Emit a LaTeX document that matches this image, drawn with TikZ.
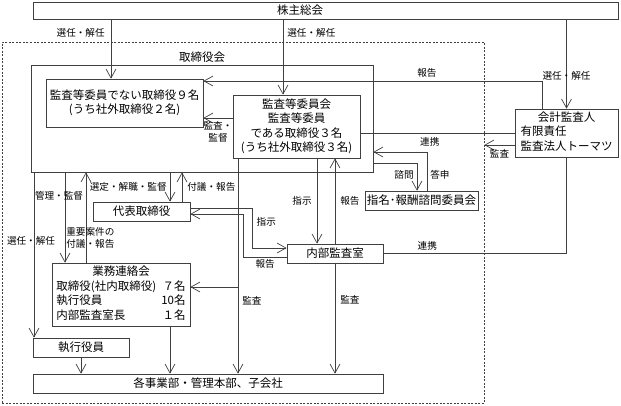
\documentclass[tikz,border=0pt]{standalone}
\usepackage{fontspec}
\setmainfont{Noto Sans CJK JP}
\usetikzlibrary{arrows.meta,positioning}
\begin{document}
\begin{tikzpicture}[x=1pt,y=-1pt,line width=0.7pt,
   btxt/.style={font=\fontsize{11.5}{14.5}\selectfont},
   box/.style={btxt,draw=black!75,inner sep=0pt,align=center},
   lbl/.style={inner sep=1pt,font=\fontsize{9.6}{12}\selectfont},
   ln/.style={draw=black!75},
   arr/.style={ln,-{Straight Barb[length=9pt,width=10pt]}}]
 \useasboundingbox (0,0) rectangle (621,405);
 \node[draw=black!75,dash pattern=on 2pt off 1.5pt,minimum width=482pt,minimum height=361pt,inner sep=0pt] (waku) at (243,222.5) {};
 \node[box,minimum width=585pt,minimum height=17pt,label={[btxt,xshift=-25.5pt]center:株主総会}] (kabu) at (325.5,10.5) {};
 \node[box,minimum width=342pt,minimum height=107pt,label={[btxt,inner sep=1.5pt]above:取締役会}] (tori) at (202,118.5) {};
 \node[box,minimum width=157pt,minimum height=48pt] (hiiin) at (124.5,103) {監査等委員でない取締役９名\\(うち社外取締役２名)};
 \node[box,minimum width=127pt,minimum height=63pt] (iinkai) at (296.5,126.5) {監査等委員会\\監査等委員\\である取締役３名\\(うち社外取締役３名)};
 \node[box,minimum width=103pt,minimum height=48pt] (kaikei) at (566.5,133)
  {\begin{tabular}{@{}l@{}}\multicolumn{1}{@{}c@{}}{会計監査人}\\有限責任\\監査法人トーマツ\end{tabular}};
 \node[box,minimum width=113pt,minimum height=19pt] (shimei) at (421.5,200.5) {指名･報酬諮問委員会};
 \node[box,minimum width=96pt,minimum height=19pt] (naibu) at (335,253.5) {内部監査室};
 \node[box,minimum width=97pt,minimum height=19pt] (daihyo) at (141.5,211.5) {代表取締役};
 \node[box,minimum width=138pt,minimum height=63pt] (gyomu) at (121,294.5)
  {\begin{tabular}{@{}l@{\hspace{5pt}}r@{}}\multicolumn{2}{@{}c@{}}{業務連絡会}\\取締役(社内取締役)&７名\\執行役員&10名\\内部監査室長&１名\end{tabular}};
 \node[box,minimum width=96pt,minimum height=19pt] (shikko) at (81,347.5) {執行役員};
 \node[box,minimum width=350pt,minimum height=19pt] (jigyo) at (208,383.5) {各事業部・管理本部、子会社};

 \coordinate (s1) at ([xshift=-13.5pt]hiiin.north);
 \coordinate (s2) at ([xshift=-13.5pt]iinkai.north);
 \coordinate (s3) at ([xshift=-47pt]shikko.north);
 \coordinate (k1) at ([yshift=-12pt]kaikei.west);
 \coordinate (k2) at ([yshift=8.5pt]iinkai.west);
 \coordinate (k3) at ([xshift=-58.5pt]iinkai.south);
 \coordinate (k4) at ([yshift=7.5pt]gyomu.east);
 \coordinate (d1) at ([xshift=28.5pt]daihyo.north);
 \coordinate (d2) at ([xshift=40.5pt]daihyo.north);
 \coordinate (g1) at ([xshift=-35pt]gyomu.north);
 \coordinate (g2) at ([xshift=-56pt]gyomu.north);
 \coordinate (g3) at ([xshift=49pt]gyomu.south);

 \draw[arr] (s1 |- kabu.south) -- (s1) node[lbl,pos=.23,left=5pt]{選任・解任};
 \draw[arr] (s2 |- kabu.south) -- (s2) node[lbl,pos=.18,right=3pt]{選任・解任};
 \draw[arr] (kaikei.north |- kabu.south) -- (kaikei.north) node[lbl,pos=.63]{選任・解任};
 \draw[arr] ([xshift=-24.5pt]kaikei.north) |- ([yshift=22pt]hiiin.east) node[lbl,pos=.67,above=2pt]{報告};
 \draw[ln] (kaikei.west) -- (kaikei.west -| iinkai.east) node[lbl,pos=.55,below=3pt]{連携};
 \draw[arr] (k1) -- (k1 -| waku.east) node[lbl,midway,below=3pt]{監査};
 \draw[ln] (naibu.east) -| (kaikei.south) node[lbl,pos=.12,above=2pt]{連携};
 \draw[arr] (k2) -- (k2 -| hiiin.east) node[lbl,midway,below=2pt,align=center]{監査・\\監督};
 \draw[arr] ([xshift=5.5pt]shimei.north) |- ([yshift=-33.5pt]tori.east) node[lbl,pos=.2,right=2pt]{答申};
 \draw[arr] ([yshift=-44.5pt]tori.east) -| ([xshift=-4.5pt]shimei.north) node[lbl,pos=.71,left=2pt]{諮問};
 \draw[arr] ([xshift=20.5pt]iinkai.south) -- ([xshift=-18pt]naibu.north) node[lbl,midway,left=4pt]{指示};
 \draw[arr] (naibu.north) -- (naibu.north |- iinkai.south) node[lbl,midway,right=4pt]{報告};
 \draw[arr] (naibu.south) -- (naibu.south |- jigyo.north) node[lbl,pos=.33,right=4pt]{監査};
 \draw[arr] (k3) -- (k3 |- jigyo.north) node[lbl,pos=.66,right=3pt]{監査};
 \draw[arr] (k4 -| k3) -- (k4);
 \draw[arr] ([yshift=3.5pt]daihyo.east) -- ++(62,0) |- ([yshift=5.5pt]naibu.west) node[lbl,pos=.175,right=3pt]{指示};
 \draw[arr] ([yshift=-3.5pt]naibu.west) -- ++(-43,0) node[lbl,midway,below=1pt]{報告} |- ([yshift=-2.5pt]daihyo.east);
 \draw[arr] (d1 |- tori.south) -- (d1) node[lbl,midway,left=2pt]{選定・解職・監督};
 \draw[arr] (d2) -- (d2 |- tori.south) node[lbl,midway,right=4pt]{付議・報告};
 \draw[arr] (g1) -- (g1 |- tori.south) node[lbl,pos=.27,anchor=west,xshift=-21pt,align=left]{重要案件の\\付議・報告};
 \draw[arr] (g2 |- tori.south) -- (g2) node[lbl,pos=.26,xshift=-6pt]{管理・監督};
 \draw[arr] (s3 |- tori.south) -- (s3) node[lbl,pos=.415,xshift=-3pt]{選任・解任};
 \draw[arr] (shikko.south) -- (shikko.south |- jigyo.north);
 \draw[arr] (g3) -- (g3 |- jigyo.north);
\end{tikzpicture}
\end{document}
